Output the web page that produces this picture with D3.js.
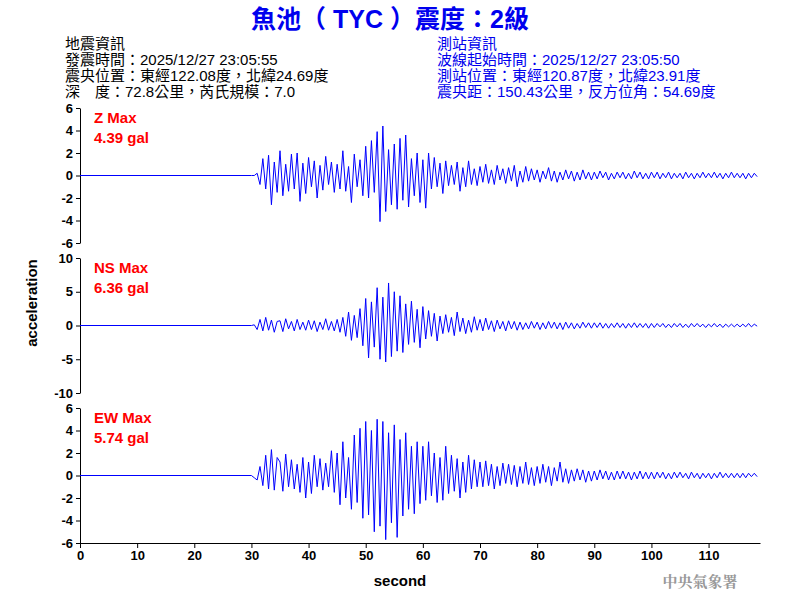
<!DOCTYPE html>
<html><head><meta charset="utf-8">
<script src="https://cdn.jsdelivr.net/npm/d3@7"></script>
<style>body{margin:0;background:#fff}svg{display:block}</style>
</head><body><div id="chart"></div>
<script>
// readings every 0.5 s starting at 30 s; before that the trace is flat at 0
const startTime = 30
const step = 0.5
const zValues = [
  0,0,0.2,-0.8,1.5,-1.2,1.8,-2.6,1.2,-1.5,
  2.2,-1.8,1.0,-1.4,1.9,-1.2,2.0,-2.3,1.1,-1.6,
  1.6,-1.0,1.3,-2.0,0.9,-1.3,1.7,-0.8,1.2,-1.5,
  1.0,-1.2,2.2,-1.4,0.8,-2.4,1.9,-1.0,1.4,-1.8,
  2.6,-2.0,3.1,-1.5,3.9,-4.1,4.4,-3.2,2.3,-2.6,
  2.8,-3.0,3.3,-2.2,3.6,-2.8,1.5,-1.8,2.0,-2.4,
  1.4,-2.9,2.0,-1.2,1.6,-1.0,1.1,-1.6,1.3,-0.9,
  0.9,-0.8,1.2,-1.4,0.7,-1.0,1.3,-0.8,0.6,-0.9,
  0.8,-0.6,1.0,-0.7,0.5,-0.8,0.9,-0.4,0.6,-0.7,
  0.7,-0.5,0.9,-1.0,0.4,-0.6,0.8,-0.5,0.6,-0.4,
  0.5,-0.6,0.4,-0.3,0.7,-0.5,0.4,-0.6,0.3,-0.4,
  0.5,-0.3,0.4,-0.5,0.3,-0.4,0.5,-0.3,0.3,-0.4,
  0.3,-0.3,0.4,-0.2,0.3,-0.4,0.2,-0.3,0.3,-0.2,
  0.3,-0.3,0.2,-0.3,0.4,-0.2,0.3,-0.3,0.2,-0.3,
  0.3,-0.2,0.3,-0.3,0.2,-0.2,0.3,-0.3,0.2,-0.2,
  0.2,-0.3,0.3,-0.2,0.2,-0.3,0.2,-0.2,0.3,-0.2,
  0.2,-0.2,0.3,-0.2,0.2,-0.3,0.2,-0.2,0.3,-0.2,
  0.2,-0.2,0.2,-0.3,0.2,-0.2,0.2,-0.1
]
const nsValues = [
  0,0.1,-0.6,0.9,-0.8,1.2,-0.7,0.8,-1.0,0.6,
  0.7,-0.9,1.0,-0.5,0.6,-0.8,0.9,-0.6,0.5,-0.7,
  0.8,-0.6,0.7,-0.9,0.5,-0.6,1.0,-0.7,0.6,-0.8,
  0.9,-1.0,1.2,-1.6,2.0,-2.2,1.5,-1.8,2.5,-3.0,
  4.0,-4.8,3.5,-3.2,5.6,-5.0,4.2,-5.4,6.3,-4.6,
  5.0,-3.8,4.4,-4.0,3.2,-2.8,3.6,-2.5,2.4,-3.3,
  2.8,-2.0,2.2,-1.6,1.8,-2.3,1.4,-1.2,1.6,-1.0,
  1.2,-1.5,2.0,-0.9,1.1,-1.2,0.8,-1.0,1.3,-0.7,
  0.9,-0.8,1.1,-0.6,0.7,-0.9,0.8,-0.5,0.6,-0.8,
  0.7,-0.5,0.6,-0.7,0.5,-0.6,0.4,-0.5,0.6,-0.4,
  0.5,-0.6,0.4,-0.5,0.6,-0.4,0.5,-0.5,0.4,-0.6,
  0.5,-0.4,0.4,-0.5,0.3,-0.4,0.5,-0.3,0.4,-0.4,
  0.4,-0.3,0.4,-0.4,0.3,-0.4,0.3,-0.3,0.4,-0.3,
  0.3,-0.4,0.3,-0.3,0.4,-0.3,0.3,-0.3,0.3,-0.4,
  0.3,-0.3,0.3,-0.2,0.3,-0.3,0.2,-0.3,0.3,-0.2,
  0.3,-0.3,0.2,-0.3,0.3,-0.2,0.3,-0.2,0.2,-0.3,
  0.2,-0.2,0.3,-0.2,0.2,-0.3,0.2,-0.2,0.2,-0.2,
  0.2,-0.2,0.2,-0.2,0.3,-0.2,0.2,-0.1
]
const ewValues = [
  0,-0.2,-0.4,0.8,-0.9,1.8,-1.2,2.3,-1.3,1.6,
  1.2,-1.4,1.9,-1.0,1.4,-1.2,1.0,-1.5,1.6,-2.0,
  1.2,-1.6,1.8,-1.0,1.5,-1.3,1.1,-1.0,2.2,-1.5,
  2.0,-2.6,3.0,-2.0,1.6,-3.0,3.6,-2.4,4.2,-3.8,
  4.8,-3.5,4.0,-5.0,5.0,-4.5,4.8,-5.7,3.8,-4.2,
  4.5,-5.5,3.2,-3.6,3.8,-3.0,2.6,-3.4,3.0,-2.5,
  2.6,-2.2,3.0,-1.8,2.0,-2.4,1.6,-2.2,2.6,-1.6,
  1.8,-1.4,1.5,-2.0,1.2,-1.5,1.8,-1.2,1.4,-1.0,
  1.2,-1.0,1.3,-0.9,1.0,-1.2,0.8,-0.9,1.1,-0.7,
  1.0,-0.8,0.9,-1.0,0.8,-0.7,1.2,-0.8,0.7,-0.9,
  0.8,-0.7,1.0,-0.6,0.8,-0.9,0.7,-0.5,1.2,-0.6,
  0.6,-0.7,0.5,-0.5,0.6,-0.4,0.5,-0.6,0.4,-0.5,
  0.4,-0.4,0.5,-0.3,0.4,-0.4,0.3,-0.4,0.4,-0.3,
  0.4,-0.3,0.3,-0.4,0.3,-0.3,0.4,-0.3,0.3,-0.3,
  0.3,-0.3,0.3,-0.2,0.3,-0.3,0.2,-0.3,0.3,-0.2,
  0.3,-0.2,0.2,-0.3,0.3,-0.2,0.2,-0.3,0.2,-0.2,
  0.2,-0.3,0.2,-0.2,0.3,-0.2,0.2,-0.2,0.2,-0.2,
  0.2,-0.2,0.2,-0.2,0.2,-0.1,0.2,-0.1
]
const components = ["Z", "NS", "EW"]
const maxLabels = ["4.39 gal", "6.36 gal", "5.74 gal"]
const yLimits = [6, 10, 6]
const yTicks = [[-6,-4,-2,0,2,4,6], [-10,-5,0,5,10], [-6,-4,-2,0,2,4,6]]
const xTicks = [0,10,20,30,40,50,60,70,80,90,100,110]
const leftInfo = ["地震資訊", "發震時間：2025/12/27 23:05:55", "震央位置：東經122.08度，北緯24.69度", "深　度：72.8公里，芮氏規模：7.0"]
const rightInfo = ["測站資訊", "波線起始時間：2025/12/27 23:05:50", "測站位置：東經120.87度，北緯23.91度", "震央距：150.43公里，反方位角：54.69度"]

const width = 800, height = 600
const font = "'Liberation Sans', Arial, 'Noto Sans CJK TC', sans-serif"
const svg = d3.select("#chart").append("svg")
  .attr("width", width).attr("height", height)
  .attr("font-family", font)

const x = d3.scaleLinear().domain([0, 119]).range([80, 760])
const panelTop = [108, 258, 408], panelH = 135
const fmt = d => String(d)  // plain hyphen minus like the original

svg.append("text").attr("x", 390).attr("y", 28).attr("text-anchor", "middle")
  .attr("font-size", 25).attr("font-weight", "bold").attr("fill", "#0000ee")
  .text("魚池（ TYC ）震度：2級")

leftInfo.forEach((t, i) => svg.append("text").attr("x", 65).attr("y", 49 + i * 16)
  .attr("font-size", 15).attr("fill", "#000").text(t))
rightInfo.forEach((t, i) => svg.append("text").attr("x", 437).attr("y", 49 + i * 16)
  .attr("font-size", 15).attr("fill", "#0000ee").text(t))

const series = [zValues, nsValues, ewValues]
series.forEach((vals, i) => {
  const y = d3.scaleLinear().domain([-yLimits[i], yLimits[i]]).range([panelTop[i] + panelH, panelTop[i]])
  const g = svg.append("g")
  g.append("g").attr("transform", `translate(80,0)`)
    .call(d3.axisLeft(y).tickValues(yTicks[i]).tickFormat(fmt).tickSize(4).tickSizeOuter(0))
    .call(a => a.selectAll("text").attr("font-size", 13).attr("font-weight", "bold").attr("font-family", font))
  const pts = [[0, 0]].concat(vals.map((v, k) => [startTime + k * step, v]))
  g.append("path").datum(pts)
    .attr("fill", "none").attr("stroke", "#0000ff").attr("stroke-width", 1)
    .attr("d", d3.line().x(d => x(d[0])).y(d => y(d[1])))
  g.append("text").attr("x", 94).attr("y", panelTop[i] + 15).attr("fill", "#ff0000")
    .attr("font-size", 15).attr("font-weight", "bold").text(components[i] + " Max")
  g.append("text").attr("x", 94).attr("y", panelTop[i] + 35).attr("fill", "#ff0000")
    .attr("font-size", 15).attr("font-weight", "bold").text(maxLabels[i])
})

svg.append("g").attr("transform", `translate(0,${panelTop[2] + panelH})`)
  .call(d3.axisBottom(x).tickValues(xTicks).tickFormat(fmt).tickSize(5).tickSizeOuter(0))
  .call(a => a.selectAll("text").attr("font-size", 13).attr("font-weight", "bold").attr("font-family", font))

svg.append("text").attr("transform", "translate(37,303) rotate(-90)").attr("text-anchor", "middle")
  .attr("font-size", 15).attr("font-weight", "bold").text("acceleration")
svg.append("text").attr("x", 400).attr("y", 586).attr("text-anchor", "middle")
  .attr("font-size", 15).attr("font-weight", "bold").text("second")
svg.append("text").attr("x", 700).attr("y", 587).attr("text-anchor", "middle")
  .attr("font-size", 15).attr("font-weight", "bold").attr("fill", "#999")
  .attr("font-family", "'Noto Serif CJK TC', 'Noto Sans CJK TC', serif").text("中央氣象署")
</script></body></html>
